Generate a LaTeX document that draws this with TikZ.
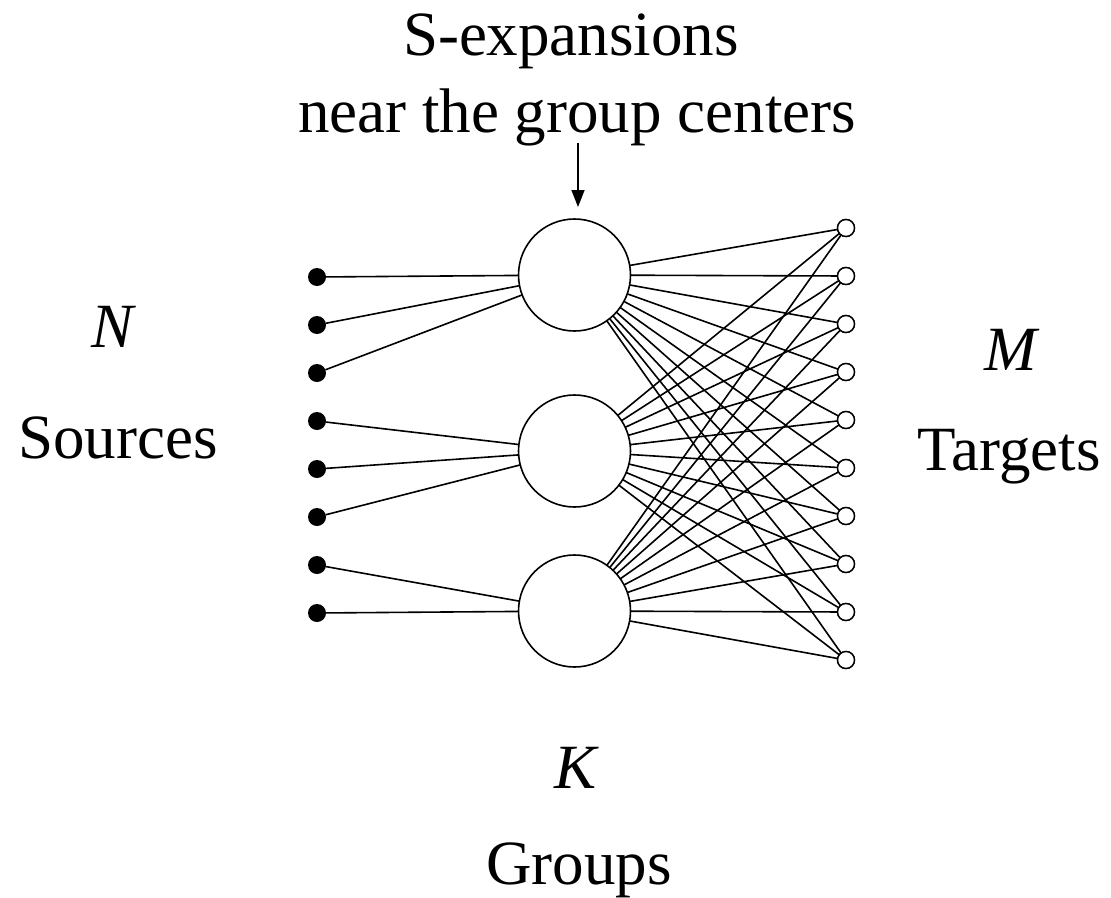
\documentclass[tikz,border=0pt]{standalone}
\usepackage{fontspec}
\setmainfont{Liberation Serif}
\usetikzlibrary{arrows.meta}
\begin{document}
\begin{tikzpicture}[x=1pt,y=-1pt,
  every node/.style={inner sep=0pt, outer sep=0pt},
  lbl/.style={anchor=base, font=\fontsize{63}{77}\selectfont},
  src/.style={circle, fill=black, minimum size=18pt},
  grp/.style={circle, draw=black, line width=1.6pt, fill=white, minimum size=112pt},
  tgt/.style={circle, draw=black, line width=1.4pt, fill=white, minimum size=17pt},
  link/.style={line width=1.6pt, black}]
\useasboundingbox (0,0) rectangle (1111,897);
% labels
\node[lbl] (l1) at (571,55) {S-expansions};
\node[lbl] (l2) at (577,132) {near the group centers};
\node[lbl] (n) at (113,347) {\itshape N};
\node[lbl] (src) at (118,458) {Sources};
\node[lbl] (m) at (1011,370) {\itshape M};
\node[lbl] (tg) at (1009,470) {Targets};
\node[lbl] (k) at (576,788) {\itshape K};
\node[lbl] (gr) at (579,884) {Groups};
% arrow
\coordinate (a0) at (578,143);
\coordinate (a1) at (578,207);
\draw[line width=1.6pt, -{Triangle[length=17pt,width=13pt]}] (a0) -- (a1);
% groups
\node[grp] (g1) at (574.5,275) {};
\node[grp] (g2) at (574.5,451) {};
\node[grp] (g3) at (574.5,611) {};
% sources
\foreach \i in {1,...,8} {
  \node[src] (s\i) at (317,{277+48*(\i-1)}) {};
}
% targets
\foreach \j in {1,...,10} {
  \node[tgt] (t\j) at (846,{228+48*(\j-1)}) {};
}
% source links
\foreach \i in {1,2,3} { \draw[link] (s\i) -- (g1); }
\foreach \i in {4,5,6} { \draw[link] (s\i) -- (g2); }
\foreach \i in {7,8} { \draw[link] (s\i) -- (g3); }
% target links
\foreach \g in {1,2,3} {
  \foreach \j in {1,...,10} {
    \draw[link] (g\g) -- (t\j);
  }
}
% redraw targets on top
\foreach \j in {1,...,10} {
  \node[tgt] at (t\j) {};
}
\end{tikzpicture}
\end{document}
